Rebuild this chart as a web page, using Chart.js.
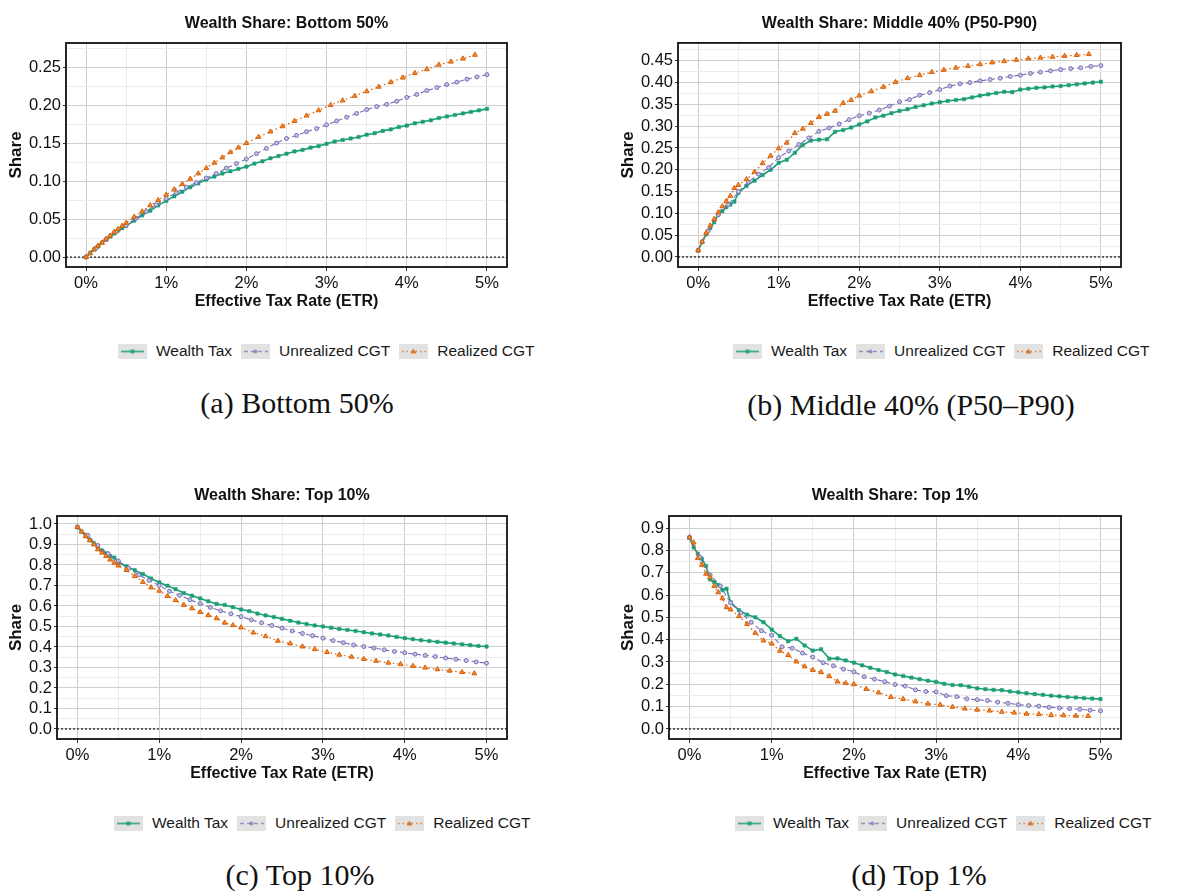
<!DOCTYPE html>
<html>
<head>
<meta charset="utf-8">
<script src="https://cdn.jsdelivr.net/npm/chart.js@4.4.1/dist/chart.umd.min.js"></script>
<style>
body { margin: 0; background: #fff; width: 1198px; height: 893px; position: relative; overflow: hidden; font-family: "Liberation Sans", Arial, sans-serif; }
canvas { position: absolute; }
.legend { position: absolute; display: flex; align-items: center; font-size: 15.5px; color: #1a1a1a; transform: translateY(-50%); white-space: nowrap; }
.key { width: 29px; height: 15px; background: #e2e2e2; margin-right: 9px; }
.key svg { display: block; }
.item { display: flex; align-items: center; margin-right: 9px; }
.caption { position: absolute; font-family: "Liberation Serif", serif; font-size: 30px; color: #111; transform: translate(-50%, -50%); white-space: nowrap; }
</style>
</head>
<body>
<canvas id="c1" width="600" height="315" style="left:0;top:0"></canvas>
<canvas id="c2" width="598" height="315" style="left:600px;top:0"></canvas>
<canvas id="c3" width="600" height="317" style="left:0;top:470px"></canvas>
<canvas id="c4" width="598" height="317" style="left:600px;top:470px"></canvas>

<div class="caption" style="left:297px;top:403px">(a) Bottom 50%</div>
<div class="caption" style="left:911px;top:405px">(b) Middle 40% (P50–P90)</div>
<div class="caption" style="left:300px;top:875px">(c) Top 10%</div>
<div class="caption" style="left:919px;top:875px">(d) Top 1%</div>

<script>
// Data (ETR in %)
const seriesNames = ["Wealth Tax", "Unrealized CGT", "Realized CGT"];

const etrWealth = [0, 0.05, 0.1, 0.15, 0.2, 0.25, 0.3, 0.35, 0.4, 0.45, 0.5,
  0.6, 0.7, 0.8, 0.9, 1.0, 1.1, 1.2, 1.3, 1.4, 1.5, 1.6, 1.7, 1.8, 1.9, 2.0,
  2.1, 2.2, 2.3, 2.4, 2.5, 2.6, 2.7, 2.8, 2.9, 3.0,
  3.1, 3.2, 3.3, 3.4, 3.5, 3.6, 3.7, 3.8, 3.9, 4.0,
  4.1, 4.2, 4.3, 4.4, 4.5, 4.6, 4.7, 4.8, 4.9, 5.0];
const etrUnrealized = [0, 0.125, 0.25, 0.375, 0.5, 0.625, 0.75, 0.875, 1.0, 1.125, 1.25, 1.375, 1.5,
  1.625, 1.75, 1.875, 2.0, 2.125, 2.25, 2.375, 2.5, 2.625, 2.75, 2.875, 3.0, 3.125, 3.25, 3.375, 3.5,
  3.625, 3.75, 3.875, 4.0, 4.125, 4.25, 4.375, 4.5, 4.625, 4.75, 4.875, 5.0];
const etrRealized = [0, 0.05, 0.1, 0.15, 0.2, 0.25, 0.3, 0.35, 0.4, 0.45, 0.5,
  0.6, 0.7, 0.8, 0.9, 1.0, 1.1, 1.2, 1.3, 1.4, 1.5, 1.6, 1.7, 1.8, 1.9, 2.0,
  2.15, 2.3, 2.45, 2.6, 2.75, 2.9, 3.05, 3.2, 3.35, 3.5, 3.65, 3.8, 3.95, 4.1, 4.25, 4.4, 4.55, 4.7, 4.85];

const bottom50Wealth = [0.000, 0.005, 0.010, 0.014, 0.019, 0.023, 0.027, 0.031, 0.035, 0.038, 0.041,
  0.048, 0.055, 0.061, 0.068, 0.074, 0.080, 0.086, 0.092, 0.097, 0.102, 0.106, 0.110, 0.113, 0.116, 0.119,
  0.123, 0.126, 0.130, 0.133, 0.136, 0.139, 0.141, 0.144, 0.146, 0.149,
  0.152, 0.154, 0.156, 0.158, 0.161, 0.163, 0.166, 0.168, 0.171, 0.173,
  0.176, 0.178, 0.180, 0.183, 0.185, 0.187, 0.189, 0.191, 0.193, 0.195];
const bottom50Unrealized = [0.000, 0.012, 0.023, 0.033, 0.042, 0.051, 0.060, 0.069, 0.077, 0.085, 0.092, 0.098, 0.104,
  0.110, 0.117, 0.123, 0.129, 0.136, 0.143, 0.150, 0.156, 0.160, 0.165, 0.169, 0.174, 0.179, 0.184, 0.189, 0.194,
  0.198, 0.201, 0.205, 0.210, 0.214, 0.219, 0.223, 0.227, 0.230, 0.234, 0.237, 0.240];
const bottom50Realized = [0.000, 0.005, 0.010, 0.015, 0.019, 0.024, 0.028, 0.033, 0.037, 0.041, 0.045,
  0.053, 0.060, 0.068, 0.075, 0.082, 0.089, 0.096, 0.103, 0.110, 0.117, 0.124, 0.131, 0.138, 0.144, 0.150,
  0.158, 0.165, 0.172, 0.179, 0.186, 0.193, 0.200, 0.206, 0.212, 0.218, 0.224, 0.230, 0.236, 0.242, 0.247, 0.253, 0.257, 0.261, 0.266];

const middle40Wealth = [0.015, 0.034, 0.052, 0.066, 0.080, 0.097, 0.105, 0.114, 0.120, 0.127, 0.147,
  0.163, 0.175, 0.188, 0.200, 0.216, 0.223, 0.239, 0.257, 0.267, 0.269, 0.270, 0.287, 0.291, 0.297, 0.304,
  0.311, 0.320, 0.324, 0.330, 0.335, 0.339, 0.344, 0.348, 0.352, 0.355,
  0.358, 0.360, 0.362, 0.366, 0.370, 0.373, 0.376, 0.379, 0.378, 0.384,
  0.386, 0.388, 0.389, 0.391, 0.392, 0.394, 0.396, 0.398, 0.400, 0.402];
const middle40Unrealized = [0.015, 0.060, 0.097, 0.120, 0.150, 0.172, 0.190, 0.205, 0.228, 0.243, 0.258, 0.273, 0.288,
  0.296, 0.305, 0.315, 0.324, 0.330, 0.337, 0.346, 0.356, 0.361, 0.371, 0.377, 0.384, 0.392, 0.397, 0.400, 0.404,
  0.407, 0.410, 0.414, 0.417, 0.421, 0.424, 0.427, 0.430, 0.432, 0.434, 0.437, 0.439];
const middle40Realized = [0.015, 0.035, 0.055, 0.072, 0.087, 0.102, 0.116, 0.128, 0.140, 0.158, 0.165,
  0.178, 0.195, 0.215, 0.232, 0.249, 0.262, 0.284, 0.294, 0.307, 0.321, 0.328, 0.335, 0.353, 0.360, 0.370,
  0.380, 0.390, 0.401, 0.410, 0.417, 0.424, 0.429, 0.434, 0.438, 0.442, 0.446, 0.449, 0.452, 0.455, 0.457, 0.459, 0.461, 0.463, 0.465];

const top10Wealth = [0.985, 0.963, 0.942, 0.922, 0.906, 0.885, 0.870, 0.857, 0.844, 0.836, 0.812,
  0.793, 0.775, 0.756, 0.734, 0.715, 0.699, 0.682, 0.663, 0.650, 0.637, 0.623, 0.610, 0.605, 0.594, 0.583,
  0.575, 0.563, 0.554, 0.546, 0.537, 0.528, 0.519, 0.512, 0.505, 0.500,
  0.494, 0.488, 0.483, 0.478, 0.472, 0.466, 0.461, 0.456, 0.449, 0.443,
  0.438, 0.433, 0.429, 0.425, 0.421, 0.417, 0.413, 0.409, 0.405, 0.402];
const top10Unrealized = [0.985, 0.945, 0.895, 0.855, 0.820, 0.785, 0.752, 0.725, 0.700, 0.672, 0.652, 0.630, 0.612,
  0.593, 0.576, 0.562, 0.548, 0.532, 0.518, 0.505, 0.492, 0.478, 0.466, 0.455, 0.443, 0.431, 0.421, 0.410, 0.402,
  0.395, 0.386, 0.378, 0.372, 0.365, 0.359, 0.353, 0.346, 0.340, 0.334, 0.327, 0.321];
const top10Realized = [0.985, 0.963, 0.940, 0.920, 0.900, 0.876, 0.860, 0.843, 0.826, 0.810, 0.797,
  0.775, 0.745, 0.717, 0.690, 0.674, 0.648, 0.628, 0.605, 0.588, 0.570, 0.555, 0.540, 0.518, 0.506, 0.495,
  0.470, 0.452, 0.430, 0.417, 0.402, 0.389, 0.375, 0.362, 0.352, 0.341, 0.332, 0.323, 0.316, 0.307, 0.299, 0.291, 0.284, 0.277, 0.271];

const top1Wealth = [0.857, 0.813, 0.785, 0.763, 0.730, 0.670, 0.659, 0.645, 0.622, 0.628, 0.567,
  0.532, 0.512, 0.500, 0.478, 0.445, 0.416, 0.393, 0.404, 0.374, 0.351, 0.357, 0.315, 0.316, 0.307, 0.297,
  0.285, 0.274, 0.264, 0.255, 0.244, 0.237, 0.230, 0.223, 0.216, 0.211,
  0.202, 0.197, 0.196, 0.189, 0.182, 0.178, 0.175, 0.174, 0.168, 0.164,
  0.160, 0.156, 0.153, 0.149, 0.146, 0.143, 0.141, 0.138, 0.136, 0.134];
const top1Unrealized = [0.860, 0.770, 0.690, 0.640, 0.565, 0.520, 0.478, 0.440, 0.420, 0.368, 0.362, 0.340, 0.322,
  0.297, 0.283, 0.268, 0.256, 0.234, 0.223, 0.212, 0.199, 0.192, 0.175, 0.168, 0.166, 0.149, 0.145, 0.135, 0.131,
  0.127, 0.120, 0.115, 0.109, 0.105, 0.102, 0.097, 0.094, 0.091, 0.088, 0.084, 0.081];
const top1Realized = [0.857, 0.835, 0.765, 0.735, 0.695, 0.680, 0.640, 0.612, 0.585, 0.545, 0.535,
  0.505, 0.470, 0.430, 0.396, 0.382, 0.350, 0.331, 0.302, 0.280, 0.264, 0.254, 0.236, 0.212, 0.205, 0.200,
  0.179, 0.163, 0.143, 0.134, 0.123, 0.113, 0.108, 0.099, 0.091, 0.086, 0.082, 0.077, 0.073, 0.068, 0.066, 0.062, 0.061, 0.059, 0.058];

// x gridlines every 0.5%, labels on whole percents
const xGridValues = [0, 0.5, 1, 1.5, 2, 2.5, 3, 3.5, 4, 4.5, 5];
const xTickLabels = ["0%", "1%", "2%", "3%", "4%", "5%"];

// Colours
const green = "#1b9e77";
const purple = "#7570b3";
const orange = "#d95f02";

Chart.defaults.font.family = '"Liberation Sans", Arial, sans-serif';
Chart.defaults.color = "#111";

function isMajor(v, step) {
  const r = v / step;
  return Math.abs(r - Math.round(r)) < 1e-6;
}

function toPoints(xs, ys) {
  return xs.map((x, i) => ({ x: x, y: ys[i] }));
}

const framePlugin = {
  id: "frame",
  beforeDatasetsDraw(chart) {
    const { ctx, chartArea: a, scales } = chart;
    const py = scales.y.getPixelForValue(0);
    ctx.save();
    ctx.strokeStyle = "#222";
    ctx.lineWidth = 1.3;
    ctx.setLineDash([2, 2]);
    ctx.beginPath();
    ctx.moveTo(a.left, py);
    ctx.lineTo(a.right, py);
    ctx.stroke();
    ctx.restore();
  },
  afterDraw(chart) {
    const { ctx, chartArea: a } = chart;
    ctx.save();
    ctx.strokeStyle = "#111";
    ctx.lineWidth = 1.8;
    ctx.strokeRect(a.left, a.top, a.right - a.left, a.bottom - a.top);
    ctx.restore();
  }
};

function makeChart(id, p) {
  const datasets = [
    {
      label: seriesNames[0], data: toPoints(etrWealth, p.wealth), order: 3,
      borderColor: green, borderWidth: 1.6,
      pointStyle: "rect", pointRadius: 2.4, pointBackgroundColor: green, pointBorderColor: green, pointBorderWidth: 0.5
    },
    {
      label: seriesNames[1], data: toPoints(etrUnrealized, p.unrealized), order: 2,
      borderColor: purple, borderWidth: 1.1, borderDash: [5, 3],
      pointStyle: "circle", pointRadius: 2, pointBackgroundColor: "#c4c1e3", pointBorderColor: purple, pointBorderWidth: 1
    },
    {
      label: seriesNames[2], data: toPoints(etrRealized, p.realized), order: 1,
      borderColor: orange, borderWidth: 1.2, borderDash: [1.5, 3],
      pointStyle: "triangle", pointRadius: 2.8, pointBackgroundColor: "#ea8a40", pointBorderColor: orange, pointBorderWidth: 1
    }
  ];

  return new Chart(document.getElementById(id), {
    type: "line",
    data: { datasets: datasets },
    plugins: [framePlugin],
    options: {
      responsive: false,
      animation: false,
      layout: { padding: { left: 0, right: p.rightPad, top: 0, bottom: 0 } },
      plugins: {
        legend: { display: false },
        tooltip: { enabled: false },
        title: {
          display: true, text: p.title, fullSize: false, color: "#111",
          font: { size: 16, weight: "bold" },
          padding: { top: p.titleTop, bottom: p.titleBottom }
        }
      },
      scales: {
        x: {
          type: "linear", min: -0.25, max: 5.25,
          afterBuildTicks(scale) { scale.ticks = xGridValues.map(v => ({ value: v })); },
          afterFit(scale) { scale.height = 48; },
          ticks: {
            autoSkip: false, maxRotation: 0, padding: 3,
            font: { size: 16.5 }, color: "#111",
            callback: v => isMajor(v, 1) ? xTickLabels[Math.round(v)] : ""
          },
          grid: {
            color: c => (c.tick && isMajor(c.tick.value, 1)) ? "#cfcfcf" : "#ebebeb",
            tickColor: c => (c.tick && isMajor(c.tick.value, 1)) ? "#333" : "rgba(0,0,0,0)",
            tickLength: 4
          },
          border: { display: false },
          title: {
            display: true, text: "Effective Tax Rate (ETR)", color: "#111",
            font: { size: 16, weight: "bold" }, padding: { top: 0, bottom: 4 }
          }
        },
        y: {
          type: "linear", min: p.yMin, max: p.yMax,
          afterFit(scale) { scale.width = p.yWidth; },
          ticks: {
            stepSize: p.yStep / 2, includeBounds: false, autoSkip: false, padding: 2,
            font: { size: 16.5 }, color: "#111",
            callback: v => isMajor(v, p.yStep) ? v.toFixed(p.yDec) : ""
          },
          grid: {
            color: c => (c.tick && isMajor(c.tick.value, p.yStep)) ? "#cfcfcf" : "#ebebeb",
            tickColor: c => (c.tick && isMajor(c.tick.value, p.yStep)) ? "#333" : "rgba(0,0,0,0)",
            tickLength: 3
          },
          border: { display: false },
          title: {
            display: true, text: "Share", color: "#111",
            font: { size: 17, weight: "bold" }, padding: { top: p.yTitlePad, bottom: 0 }
          }
        }
      }
    }
  });
}

makeChart("c1", {
  title: "Wealth Share: Bottom 50%", titleTop: 14.4, titleBottom: 9.4,
  yMin: -0.013, yMax: 0.2816, yStep: 0.05, yDec: 2, yWidth: 66, yTitlePad: 6, rightPad: 93,
  wealth: bottom50Wealth, unrealized: bottom50Unrealized, realized: bottom50Realized
});
makeChart("c2", {
  title: "Wealth Share: Middle 40% (P50-P90)", titleTop: 13.7, titleBottom: 10,
  yMin: -0.023, yMax: 0.491, yStep: 0.05, yDec: 2, yWidth: 78, yTitlePad: 18, rightPad: 77,
  wealth: middle40Wealth, unrealized: middle40Unrealized, realized: middle40Realized
});
makeChart("c3", {
  title: "Wealth Share: Top 10%", titleTop: 16.4, titleBottom: 10.4,
  yMin: -0.049, yMax: 1.039, yStep: 0.1, yDec: 1, yWidth: 57, yTitlePad: 6, rightPad: 93,
  wealth: top10Wealth, unrealized: top10Unrealized, realized: top10Realized
});
makeChart("c4", {
  title: "Wealth Share: Top 1%", titleTop: 16.4, titleBottom: 10.4,
  yMin: -0.045, yMax: 0.954, yStep: 0.1, yDec: 1, yWidth: 69, yTitlePad: 18, rightPad: 77,
  wealth: top1Wealth, unrealized: top1Unrealized, realized: top1Realized
});

// Legends (HTML)
const keySvgs = [
  '<svg width="29" height="15"><line x1="3" y1="7.5" x2="26" y2="7.5" stroke="' + green + '" stroke-opacity="0.8" stroke-width="1.8"/><rect x="12.5" y="5.5" width="4" height="4" fill="' + green + '" fill-opacity="0.8"/></svg>',
  '<svg width="29" height="15"><line x1="3" y1="7.5" x2="27" y2="7.5" stroke="' + purple + '" stroke-opacity="0.7" stroke-width="1.4" stroke-dasharray="4 3"/><circle cx="14.5" cy="7.5" r="2" fill="' + purple + '" fill-opacity="0.7"/></svg>',
  '<svg width="29" height="15"><line x1="3" y1="7.5" x2="27" y2="7.5" stroke="' + orange + '" stroke-opacity="0.7" stroke-width="1.4" stroke-dasharray="1.5 3"/><polygon points="14.5,4.5 17.5,9.5 11.5,9.5" fill="' + orange + '" fill-opacity="0.8"/></svg>'
];
const legendPos = [[118, 351], [733, 351], [114, 823], [735, 823]];
for (const [lx, ly] of legendPos) {
  const div = document.createElement("div");
  div.className = "legend";
  div.style.left = lx + "px";
  div.style.top = ly + "px";
  div.innerHTML = seriesNames.map((n, i) =>
    '<span class="item"><span class="key">' + keySvgs[i] + '</span><span>' + n + '</span></span>').join("");
  document.body.appendChild(div);
}
</script>
</body>
</html>
